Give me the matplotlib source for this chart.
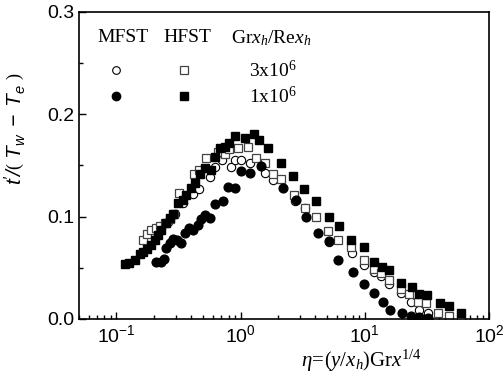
import numpy as np
import matplotlib
matplotlib.use('Agg')
from matplotlib import pyplot as plt
from matplotlib import rcParams
from matplotlib.ticker import LogLocator, MultipleLocator, NullFormatter

rcParams.update({'font.family': 'Liberation Sans', 'font.size': 12,
                 'mathtext.fontset': 'custom',
                 'mathtext.rm': 'Liberation Serif',
                 'mathtext.it': 'Liberation Serif:italic',
                 'mathtext.sf': 'Liberation Sans:italic'})

# MFST, Grx_h/Rex_h = 3x10^6 (open circles)
mfst3_x = [0.230, 0.260, 0.298, 0.344, 0.414, 0.459, 0.563, 0.618, 0.708, 0.831,
           0.895, 1.01, 1.20, 1.56, 1.82, 2.72, 3.31, 5.20, 7.86, 9.94,
           11.8, 13.5, 15.6, 19.6, 23.6, 27.5, 32.1]
mfst3_y = [0.089, 0.095, 0.103, 0.113, 0.122, 0.127, 0.139, 0.148, 0.155, 0.148,
           0.155, 0.155, 0.152, 0.143, 0.136, 0.115, 0.108, 0.075, 0.064, 0.053,
           0.046, 0.042, 0.034, 0.025, 0.017, 0.009, 0.006]

# MFST, 1x10^6 (filled circles)
mfst1_x = [0.210, 0.227, 0.240, 0.252, 0.272, 0.286, 0.310, 0.333, 0.355, 0.384,
           0.414, 0.454, 0.483, 0.520, 0.570, 0.618, 0.721, 0.791, 0.895, 1.01,
           1.20, 1.45, 2.19, 2.80, 3.37, 4.19, 5.13, 6.07, 8.06, 9.94,
           11.96, 13.96, 16.0, 19.9, 23.6, 27.5, 32.1]
mfst1_y = [0.056, 0.056, 0.059, 0.069, 0.074, 0.078, 0.077, 0.074, 0.084, 0.089,
           0.087, 0.092, 0.098, 0.102, 0.099, 0.112, 0.115, 0.129, 0.128, 0.145,
           0.143, 0.149, 0.128, 0.116, 0.100, 0.084, 0.076, 0.058, 0.046, 0.034,
           0.025, 0.017, 0.009, 0.006, 0.003, 0.002, 0.001]

# HFST, 3x10^6 (open squares)
hfst3_x = [0.164, 0.177, 0.191, 0.207, 0.226, 0.245, 0.269, 0.289, 0.319, 0.421,
           0.462, 0.523, 0.657, 0.753, 0.805, 0.953, 1.15, 1.34, 1.56, 1.82,
           2.13, 2.69, 3.31, 4.06, 5.04, 6.14, 7.77, 9.94, 11.8, 13.5,
           15.6, 19.6, 22.9, 26.7, 31.1, 38.6, 48.0, 59.5]
hfst3_y = [0.077, 0.083, 0.087, 0.089, 0.091, 0.094, 0.098, 0.103, 0.123, 0.142,
           0.146, 0.157, 0.163, 0.161, 0.166, 0.167, 0.168, 0.157, 0.152, 0.142,
           0.137, 0.121, 0.108, 0.100, 0.086, 0.077, 0.070, 0.058, 0.049, 0.045,
           0.038, 0.029, 0.024, 0.017, 0.016, 0.006, 0.003, 0.000]

# HFST, 1x10^6 (filled squares)
hfst1_x = [0.118, 0.126, 0.140, 0.154, 0.164, 0.177, 0.191, 0.203, 0.216, 0.230,
           0.252, 0.272, 0.286, 0.313, 0.344, 0.366, 0.401, 0.427, 0.468, 0.513,
           0.574, 0.618, 0.678, 0.743, 0.805, 0.895, 1.077, 1.280, 1.421, 1.660,
           2.125, 2.636, 3.27, 4.06, 5.20, 6.18, 7.77, 9.94, 11.96, 13.8,
           15.6, 19.6, 23.9, 27.2, 31.7, 40.6, 47.4, 59.5]
hfst1_y = [0.0536, 0.0545, 0.0578, 0.0636, 0.0659, 0.0682, 0.0718, 0.0773, 0.0821, 0.087,
           0.0935, 0.0984, 0.103, 0.113, 0.116, 0.121, 0.128, 0.133, 0.142, 0.147,
           0.146, 0.158, 0.167, 0.168, 0.172, 0.179, 0.177, 0.181, 0.175, 0.167,
           0.152, 0.140, 0.127, 0.115, 0.100, 0.091, 0.077, 0.070, 0.056, 0.051,
           0.048, 0.035, 0.031, 0.024, 0.023, 0.016, 0.013, 0.006]

fig = plt.figure(figsize=(5.03, 3.82), dpi=100)
ax = fig.add_axes([0.157, 0.165, 0.815, 0.804])

ms = 6
ax.plot(mfst3_x, mfst3_y, 'o', ms=ms, mfc='white', mec='black', mew=0.8, ls='none')
ax.plot(hfst3_x, hfst3_y, 's', ms=ms - 0.3, mfc='white', mec='#444444', mew=0.9, ls='none')
ax.plot(mfst1_x, mfst1_y, 'o', ms=ms + 0.3, color='black', ls='none')
ax.plot(hfst1_x, hfst1_y, 's', ms=ms - 0.3, color='black', ls='none')

ax.set_xscale('log')
ax.set_xlim(0.05, 100)
ax.set_ylim(0, 0.3)
ax.xaxis.set_major_locator(LogLocator(base=10, numticks=10))
ax.xaxis.set_minor_locator(LogLocator(base=10, subs=np.arange(2, 10), numticks=10))
ax.xaxis.set_minor_formatter(NullFormatter())
ax.yaxis.set_major_locator(MultipleLocator(0.1))
ax.yaxis.set_minor_locator(MultipleLocator(0.05))
ax.yaxis.set_major_formatter(plt.FormatStrFormatter('%.1f'))
ax.tick_params(which='both', direction='in', top=False, right=False, width=1)
ax.tick_params(which='major', length=5, labelsize=14)
ax.tick_params(which='minor', length=3)
for s in ax.spines.values():
    s.set_linewidth(1.2)

ax.set_xlabel(r"$\eta\!=\!\left(y/x_h\right)\mathrm{Gr}x^{1/4}$", fontsize=15)
ax.xaxis.set_label_coords(0.69, -0.095)
ax.set_ylabel(r"$\mathsf{t'/\left(\ T_w\ -\ T_e\ \right)}$", fontsize=15)
ax.yaxis.set_label_coords(-0.125, 0.62)

# legend block
tfont = dict(family='Liberation Serif', fontsize=14, va='center', transform=ax.transAxes)
ax.text(0.045, 0.915, "MFST", **tfont)
ax.text(0.205, 0.915, "HFST", **tfont)
ax.text(0.372, 0.915, r"Gr$x_h$/Re$x_h$", **tfont)
ax.plot([0.09], [0.81], 'o', ms=5.5, mfc='white', mec='black', mew=0.8, transform=ax.transAxes)
ax.plot([0.255], [0.81], 's', ms=5.2, mfc='white', mec='#444444', mew=0.9, transform=ax.transAxes)
ax.plot([0.09], [0.725], 'o', ms=6, color='black', transform=ax.transAxes)
ax.plot([0.255], [0.725], 's', ms=5.2, color='black', transform=ax.transAxes)
ax.text(0.415, 0.81, r"3x10$^6$", **tfont)
ax.text(0.415, 0.725, r"1x10$^6$", **tfont)

plt.savefig("out.png", dpi=100)
